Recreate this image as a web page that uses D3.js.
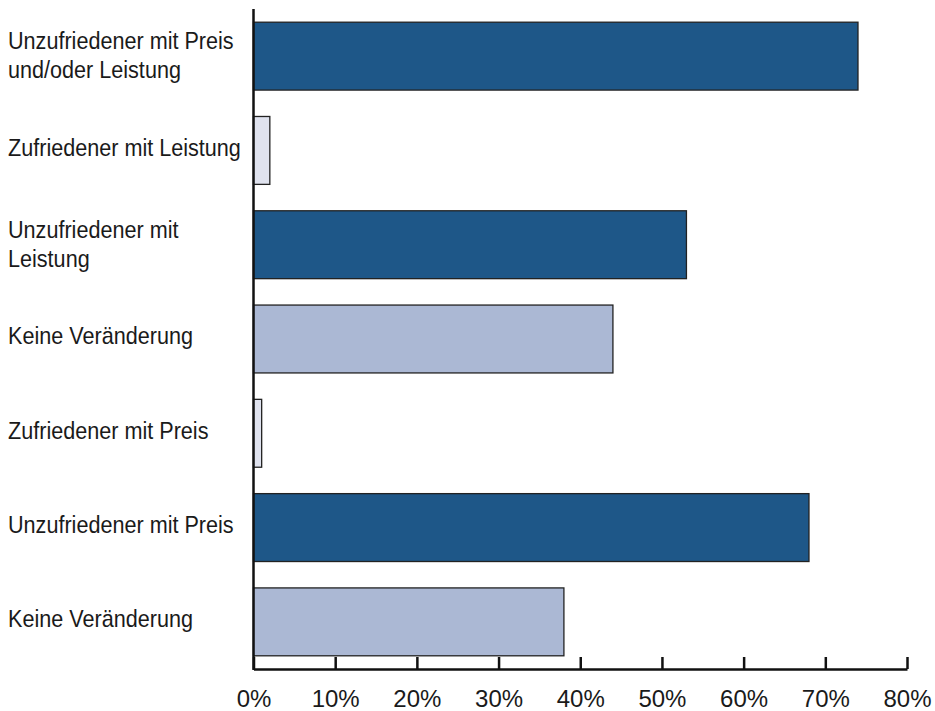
<!DOCTYPE html>
<html>
<head>
<meta charset="utf-8">
<script src="https://cdn.jsdelivr.net/npm/d3@7"></script>
<style>
  body { margin: 0; background: #fff; }
  svg text { font-family: "Liberation Sans", Arial, Helvetica, sans-serif; fill: #1a1a1a; }
</style>
</head>
<body>
<svg id="chart"></svg>
<script>
// данные диаграммы
const categories = [
  ["Unzufriedener mit Preis", "und/oder Leistung"],
  ["Zufriedener mit Leistung"],
  ["Unzufriedener mit", "Leistung"],
  ["Keine Veränderung"],
  ["Zufriedener mit Preis"],
  ["Unzufriedener mit Preis"],
  ["Keine Veränderung"]
];
const values = [74, 2, 53, 44, 1, 68, 38];
const groups = ["unzufrieden", "zufrieden", "unzufrieden", "keine", "zufrieden", "unzufrieden", "keine"];
const xTicks = [0, 10, 20, 30, 40, 50, 60, 70, 80];

const width = 935;
const height = 711;
const axisX0 = 253.5;
const axisX1 = 907;
const axisTop = 9;
const axisBottom = 669;

const svg = d3.select("#chart")
  .attr("width", width)
  .attr("height", height);

const color = d3.scaleOrdinal()
  .domain(["unzufrieden", "zufrieden", "keine"])
  .range(["#1e5788", "#dfe2ee", "#abb8d4"]);

const scaleX = d3.scaleLinear()
  .domain([0, 80])
  .range([axisX0, axisX1]);

const scaleY = d3.scaleBand()
  .domain(d3.range(categories.length))
  .range([axisTop, axisBottom])
  .paddingInner(0.28)
  .paddingOuter(0.14);

// столбики
svg.append("g")
  .selectAll("rect")
  .data(values)
  .enter()
  .append("rect")
  .attr("x", scaleX(0))
  .attr("y", (d, i) => scaleY(i))
  .attr("width", d => scaleX(d) - scaleX(0))
  .attr("height", scaleY.bandwidth())
  .attr("fill", (d, i) => color(groups[i]))
  .attr("stroke", "#222")
  .attr("stroke-width", 1.3);

// подписи категорий (шрифт немного сжат по горизонтали)
const lineH = 29;
const squeeze = 0.9;
svg.append("g")
  .attr("transform", `scale(${squeeze}, 1)`)
  .selectAll("text")
  .data(categories)
  .enter()
  .append("text")
  .attr("font-size", 24)
  .each(function(lines, i) {
    const cy = scaleY(i) + scaleY.bandwidth() / 2;
    const n = lines.length - 1;
    const y0 = cy - n * lineH / 2 + n * 2.5;
    d3.select(this).selectAll("tspan")
      .data(lines)
      .enter()
      .append("tspan")
      .attr("x", 8 / squeeze)
      .attr("y", (l, j) => y0 + j * lineH)
      .attr("dy", "0.22em")
      .text(l => l);
  });

// ось X: тики вверх, подписи снизу
const axisX = d3.axisTop(scaleX)
  .tickValues(xTicks)
  .tickSize(12)
  .tickSizeOuter(0)
  .tickFormat(d => d + "%");

const gx = svg.append("g")
  .attr("transform", `translate(0, ${axisBottom})`)
  .call(axisX);
gx.select(".domain").attr("stroke", "#111").attr("stroke-width", 2.5);
gx.selectAll(".tick line").attr("stroke", "#111").attr("stroke-width", 2.5);
gx.selectAll(".tick text")
  .attr("y", 30)
  .attr("dy", "0.35em")
  .attr("font-size", 24)
  .attr("fill", "#1a1a1a")
  .attr("font-family", "Liberation Sans, Arial, sans-serif");

// ось Y (линия)
svg.append("line")
  .attr("x1", axisX0)
  .attr("x2", axisX0)
  .attr("y1", axisTop)
  .attr("y2", axisBottom + 1)
  .attr("stroke", "#111")
  .attr("stroke-width", 2.5);
</script>
</body>
</html>
